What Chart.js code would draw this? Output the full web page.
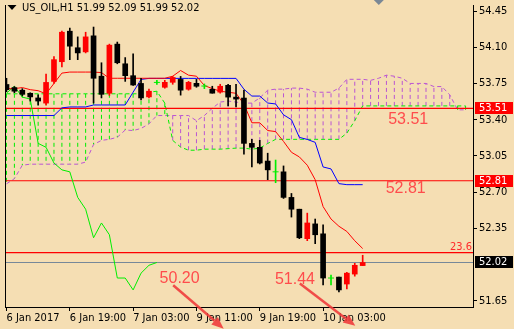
<!DOCTYPE html>
<html><head><meta charset="utf-8">
<script src="https://cdn.jsdelivr.net/npm/chart.js@4.4.1/dist/chart.umd.min.js"></script>
<style>html,body{margin:0;padding:0;background:#f5deb3;overflow:hidden}#wrap{width:514px;height:329px;position:relative}</style>
</head><body><div id="wrap"><canvas id="c" width="514" height="329"></canvas></div>
<script>
// ---- data (H1 candles, index 0 = first visible bar) ----
const opens  = [53.74,53.71,53.685,53.655,53.61,53.56,53.77,53.96,54.255,54.095,54.055,54.21,53.82,53.655,54.13,53.94,53.825,53.75,53.62,53.76,53.713,53.761,53.789,53.694,53.751,53.725,53.694,53.666,53.732,53.618,53.609,53.171,53.133,53.00,52.896,52.896,52.649,52.535,52.25,52.393,52.297,51.87,51.879,51.812,51.908,51.99];
const highs  = [53.80,53.72,53.70,53.66,53.64,53.84,54.01,54.255,54.285,54.20,54.245,54.295,53.95,54.13,54.15,54.0,54.035,53.80,53.695,53.78,53.78,53.818,53.818,53.77,53.789,53.745,53.723,53.742,53.742,53.742,53.685,53.209,53.20,53.076,53.01,52.953,52.687,52.535,52.497,52.44,52.383,51.898,51.879,51.926,52.012,52.09];
const lows   = [53.67,53.66,53.63,53.58,53.54,53.54,53.75,53.91,53.98,53.98,54.045,53.56,53.61,53.635,53.94,53.77,53.73,53.59,53.61,53.74,53.704,53.742,53.637,53.685,53.713,53.70,53.656,53.656,53.533,53.523,53.067,52.943,52.972,52.82,52.791,52.639,52.459,52.25,52.231,52.202,51.803,51.803,51.736,51.765,51.888,51.99];
const closes = [53.69,53.675,53.645,53.62,53.58,53.76,53.98,54.245,54.11,54.045,54.20,53.80,53.645,54.12,53.95,53.825,53.735,53.61,53.675,53.76,53.761,53.808,53.685,53.761,53.723,53.725,53.656,53.723,53.618,53.599,53.171,53.133,52.981,52.915,52.896,52.649,52.535,52.259,52.402,52.288,51.87,51.87,51.755,51.917,51.993,52.02];
// Ichimoku lines
const tenkan = [53.70,53.70,53.71,53.69,53.68,53.65,53.75,53.85,53.86,53.86,53.86,53.86,53.855,53.80,53.80,53.80,53.80,53.80,53.80,53.80,53.80,53.82,53.875,53.83,53.82,53.73,53.70,53.675,53.665,53.655,53.55,53.37,53.37,53.295,53.285,53.19,53.085,53.04,52.96,52.82,52.56,52.44,52.37,52.32,52.23,52.155];
const kijun = [53.44,53.44,53.44,53.44,53.44,53.44,53.44,53.514,53.523,53.523,53.523,53.542,53.542,53.542,53.542,53.542,53.666,53.789,53.799,53.799,53.799,53.799,53.799,53.799,53.799,53.799,53.799,53.799,53.799,53.799,53.694,53.628,53.628,53.561,53.552,53.447,53.40,53.229,53.209,53.181,52.943,52.924,52.782,52.772,52.772,52.772];
const chikou = [53.656,53.723,53.618,53.599,53.171,53.133,52.981,52.915,52.896,52.649,52.535,52.259,52.402,52.288,51.87,51.87,51.755,51.917,51.993,52.02];
const spanA = [53.65,53.65,53.65,53.65,53.65,53.65,53.65,53.65,53.65,53.65,53.65,53.65,53.65,53.65,53.65,53.65,53.65,53.65,53.665,53.675,53.56,53.20,53.135,53.105,53.105,53.115,53.115,53.115,53.12,53.125,53.125,53.115,53.125,53.17,53.21,53.21,53.21,53.21,53.21,53.21,53.21,53.21,53.21,53.27,53.39,53.533,53.533,53.533,53.533,53.533,53.533,53.533,53.533,53.533,53.533,53.533,53.533,53.533,53.533];
const spanB = [52.78,52.83,52.96,52.97,52.97,52.97,52.97,52.97,52.97,52.97,52.99,53.16,53.20,53.21,53.23,53.30,53.295,53.315,53.36,53.44,53.44,53.44,53.44,53.44,53.39,53.44,53.51,53.57,53.58,53.57,53.56,53.56,53.61,53.685,53.695,53.695,53.705,53.705,53.695,53.665,53.665,53.665,53.705,53.79,53.79,53.79,53.78,53.80,53.83,53.82,53.80,53.75,53.75,53.75,53.72,53.72,53.64,53.495,53.495];
// axis ticks
const xTickIndex  = [0,8,16,24,32,40];
const xTickLabels = ['6 Jan 2017','6 Jan 19:00','7 Jan 03:00','9 Jan 11:00','9 Jan 19:00','10 Jan 03:00'];
const yTickValues = [54.45,54.10,53.75,53.40,53.05,52.70,52.35,51.65];
// horizontal levels
const redLevels  = [53.51,52.81,52.116];
const bidPrice   = 52.02;
const boxPrices  = [53.51,52.81,52.02];
const fibLabel   = '23.6';
const noteTexts  = ['53.51','52.81','50.20','51.44'];
const titleText  = 'US_OIL,H1 51.99 52.09 51.99 52.02';

// ---- annotation anchors (data units) ----
const notes = {
  text: [[50.75,53.396],[50.44,52.735],[21.875,51.865],[36.44,51.851]],
  fib: [58.81,52.165],
  arrows: [[[21.06,51.80],[27.44,51.381]],[[37.06,51.818],[44.06,51.409]]],
  marker: 47.04
};

const FONT = "'Liberation Sans Narrow','Arial Narrow','DejaVu Sans Condensed',sans-serif";
const RED = '#ff0000', BLACK = '#000000', GREEN = '#00ee00', PURPLE = '#ba55d3', BLUE = '#0000ff';
const XMIN = -0.1875, XMAX = 58.9375, YMIN = 51.590, YMAX = 54.508;

const idx = opens.map((_, i) => i);
const isDoji = i => opens[i] === closes[i];
const colorOf = i => isDoji(i) ? GREEN : (closes[i] > opens[i] ? RED : BLACK);

function hatch(cond) {
  const pts = [];
  spanA.forEach((a, i) => { const b = spanB[i]; if (cond(a, b)) pts.push({x:i,y:a},{x:i,y:b},{x:i,y:null}); });
  return pts;
}
const xmaxLine = XMAX;
function hline(v, color, w, order) {
  return {type:'line', data:[{x:XMIN,y:v},{x:xmaxLine,y:v}], borderColor:color, borderWidth:w, pointRadius:0, order};
}
function series(arr, color, order, dash) {
  return {type:'line', data:arr.map((v,i)=>({x:i,y:v})), borderColor:color, borderWidth:1, pointRadius:0, tension:0, order, borderDash:dash||[]};
}

const bodyIdx = idx.filter(i => !isDoji(i));
const datasets = [
  {type:'bar', data: bodyIdx.map(i => ({x:i, y:[opens[i], closes[i]]})), backgroundColor: bodyIdx.map(colorOf), borderWidth:0, grouped:false, barThickness:5, maxBarThickness:5, minBarLength:1, order:1},
  {type:'bar', data: idx.map(i => ({x:i, y:[lows[i], highs[i]]})), backgroundColor: idx.map(colorOf), borderWidth:0, grouped:false, barThickness:1, maxBarThickness:1, order:2},
  {type:'line', data: idx.filter(isDoji).map(i => ({x:i, y:closes[i]})), showLine:false, pointStyle:'line', pointRadius:3, pointBorderColor:GREEN, pointBorderWidth:1, order:1},
  series(tenkan, RED, 4),
  series(kijun, BLUE, 4),
  series(chikou, GREEN, 4),
  hline(redLevels[0], RED, 1.2, 5),
  hline(redLevels[1], RED, 1.2, 5),
  hline(redLevels[2], RED, 1.2, 5),
  hline(bidPrice, '#778899', 1.2, 5),
  series(spanA, GREEN, 6, [4,3]),
  series(spanB, PURPLE, 6, [4,3]),
  {type:'line', data: hatch((a,b)=>a>=b), borderColor:GREEN, borderWidth:1, borderDash:[4,3], pointRadius:0, spanGaps:false, order:7},
  {type:'line', data: hatch((a,b)=>a<b), borderColor:PURPLE, borderWidth:1, borderDash:[4,3], pointRadius:0, spanGaps:false, order:7}
];

const overlay = {
  id:'overlay',
  afterDraw(chart) {
    const {ctx, chartArea:a, scales:{x, y}} = chart;
    const P = (ix, v) => [x.getPixelForValue(ix), y.getPixelForValue(v)];
    ctx.save();
    // left frame
    ctx.strokeStyle = '#000'; ctx.lineWidth = 1;
    ctx.beginPath(); ctx.moveTo(a.left + 0.5, a.top); ctx.lineTo(a.left + 0.5, a.bottom); ctx.stroke();
    // price boxes
    const boxCol = ['#ff0000','#ff0000','#000000'];
    ctx.font = '11px ' + FONT; ctx.textBaseline = 'middle'; ctx.textAlign = 'left';
    boxPrices.forEach((v, k) => {
      const py = Math.round(y.getPixelForValue(v));
      ctx.fillStyle = boxCol[k]; ctx.fillRect(a.right + 2, py - 6, 38, 12);
      ctx.fillStyle = '#ffffff'; ctx.fillText(v.toFixed(2), a.right + 6, py + 0.5);
    });
    // fib label
    ctx.fillStyle = '#ff2a2a'; ctx.textAlign = 'right';
    let [fx, fy] = P(notes.fib[0], notes.fib[1]);
    ctx.fillText(fibLabel, fx, fy);
    // big notes
    ctx.font = '16px "Liberation Sans", Arial, sans-serif'; ctx.textAlign = 'center'; ctx.fillStyle = '#ff4c4c';
    noteTexts.forEach((t, k) => { const [px, py] = P(notes.text[k][0], notes.text[k][1]); ctx.fillText(t, px, py); });
    // arrows
    ctx.strokeStyle = 'rgba(240,60,60,0.9)'; ctx.fillStyle = 'rgba(240,60,60,0.9)'; ctx.lineWidth = 2.5;
    notes.arrows.forEach(([s, e]) => {
      const [x0, y0] = P(s[0], s[1]); const [x1, y1] = P(e[0], e[1]);
      const ang = Math.atan2(y1 - y0, x1 - x0); const L = 12, W = 5;
      const bx = x1 - L * Math.cos(ang), by = y1 - L * Math.sin(ang);
      ctx.beginPath(); ctx.moveTo(x0, y0); ctx.lineTo(bx, by); ctx.stroke();
      ctx.beginPath(); ctx.moveTo(x1, y1);
      ctx.lineTo(bx + W * Math.sin(ang), by - W * Math.cos(ang));
      ctx.lineTo(bx - W * Math.sin(ang), by + W * Math.cos(ang)); ctx.closePath(); ctx.fill();
    });
    // chart-shift marker
    const mx = x.getPixelForValue(notes.marker);
    ctx.fillStyle = '#7a8896'; ctx.beginPath(); ctx.moveTo(mx - 5, 0); ctx.lineTo(mx + 5, 0); ctx.lineTo(mx, 5); ctx.closePath(); ctx.fill();
    // title
    ctx.fillStyle = '#000'; ctx.beginPath(); ctx.moveTo(a.left + 2.5, 5); ctx.lineTo(a.left + 11.5, 5); ctx.lineTo(a.left + 7, 10); ctx.closePath(); ctx.fill();
    ctx.font = '11px ' + FONT; ctx.textAlign = 'left'; ctx.textBaseline = 'middle';
    ctx.fillText(titleText, a.left + 17, 8);
    ctx.restore();
  }
};

new Chart(document.getElementById('c'), {
  type:'bar',
  data:{datasets},
  plugins:[overlay],
  options:{
    responsive:false, animation:false, events:[], devicePixelRatio:1,
    layout:{padding:0},
    plugins:{legend:{display:false}, tooltip:{enabled:false}},
    scales:{
      x:{type:'linear', min:XMIN, max:XMAX, offset:false,
        grid:{display:true, drawOnChartArea:false, drawTicks:true, tickLength:4, color:'#000', offset:false},
        border:{display:true, color:'#000', width:1},
        ticks:{autoSkip:false, maxRotation:0, align:'start', padding:1, color:'#000', font:{family:FONT, size:11},
          callback:(v)=>{ const k = xTickIndex.indexOf(v); return k >= 0 ? xTickLabels[k] : ''; }},
        afterBuildTicks:(s)=>{ s.ticks = xTickIndex.map(v=>({value:v})); },
        afterFit:(s)=>{ s.height = 22; s.paddingLeft = 0; s.paddingRight = 0; }
      },
      y:{type:'linear', position:'right', min:YMIN, max:YMAX, beginAtZero:false,
        grid:{display:true, drawOnChartArea:false, drawTicks:true, tickLength:4, color:'#000'},
        border:{display:true, color:'#000', width:1},
        ticks:{autoSkip:false, padding:2, color:'#000', font:{family:FONT, size:11}, callback:(v)=>Number(v).toFixed(2)},
        afterBuildTicks:(s)=>{ s.ticks = yTickValues.map(v=>({value:v})); },
        afterFit:(s)=>{ s.width = 41; s.paddingTop = 0; s.paddingBottom = 0; }
      }
    }
  }
});
</script></body></html>
